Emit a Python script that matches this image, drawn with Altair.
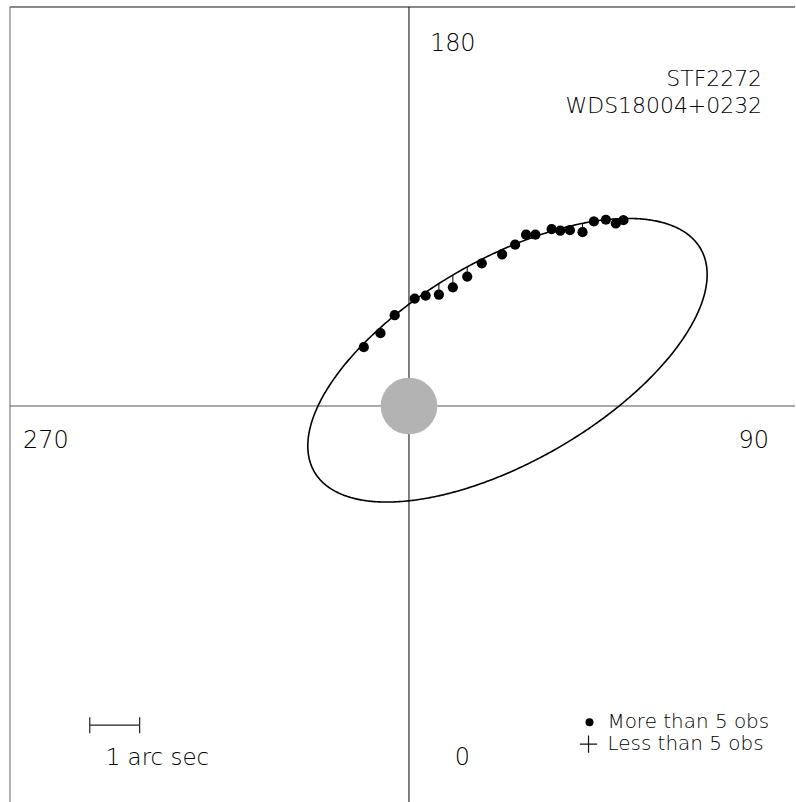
import altair as alt
import numpy as np
import pandas as pd

# Observed relative positions of the companion (arcsec).
# x runs toward position angle 90, y toward position angle 180.
obs_x = [-0.906, -0.572, -0.286, 0.114, 0.334, 0.600, 0.880, 1.168, 1.460, 1.868,
         2.128, 2.348, 2.534, 2.860, 3.034, 3.228, 3.480, 3.708, 3.948, 4.148, 4.300]
obs_y = [1.180, 1.460, 1.820, 2.154, 2.214, 2.234, 2.380, 2.594, 2.860, 3.040,
         3.234, 3.434, 3.434, 3.546, 3.514, 3.526, 3.486, 3.700, 3.734, 3.660, 3.726]

# Apparent orbit: centre (arcsec), semi-axes (arcsec), tilt of major axis (deg)
orbit_center = [1.975, 0.917]
orbit_axes = [4.472, 2.028]
orbit_tilt = 30.0

# Position-angle labels around the frame
pa_labels = ["180", "270", "90", "0"]
pa_x = [0.42, -7.74, 7.22, 0.92]
pa_y = [7.26, -0.70, -0.70, -7.06]
pa_align = ["left", "left", "right", "left"]

star_names = ["STF2272", "WDS18004+0232"]
legend_labels = ["More than 5 obs", "Less than 5 obs"]

FONT = "DejaVu Sans"
X_DOM = [-8.0, 7.74]
Y_DOM = [-7.94, 8.0]
W, H = 787, 797

xs = alt.Scale(domain=X_DOM, nice=False, zero=False)
ys = alt.Scale(domain=Y_DOM, nice=False, zero=False)


def X(field="x"):
    return alt.X(f"{field}:Q", scale=xs, axis=None)


def Y(field="y"):
    return alt.Y(f"{field}:Q", scale=ys, axis=None)


def label_text(df, size, align):
    return alt.Chart(df).mark_text(
        font=FONT, fontSize=size, fontWeight=200, align=align,
        baseline="middle", color="#000000"
    ).encode(x=X(), y=Y(), text="t:N")


# Orbit ellipse traced from its geometric parameters
cx, cy = orbit_center
a, b = orbit_axes
th = np.radians(orbit_tilt)
c, s = np.cos(th), np.sin(th)
t = np.linspace(0, 2 * np.pi, 721)
ell = pd.DataFrame({
    "x": cx + a * np.cos(t) * c - b * np.sin(t) * s,
    "y": cy + a * np.cos(t) * s + b * np.sin(t) * c,
    "i": np.arange(len(t)),
})

# O-C segments: from each observation to the orbit directly above it
ox = np.array(obs_x)
oy = np.array(obs_y)
dx = ox - cx
qa = s * s / a**2 + c * c / b**2
qb = 2 * dx * (c * s / a**2 - s * c / b**2)
qc = dx * dx * (c * c / a**2 + s * s / b**2) - 1
disc = np.clip(qb * qb - 4 * qa * qc, 0, None)
pred_y = cy + (-qb + np.sqrt(disc)) / (2 * qa)
obs = pd.DataFrame({"x": ox, "y": oy, "y2": pred_y})

# Frame edges and cross-hair axes
frame = pd.DataFrame({
    "x": [X_DOM[0], X_DOM[0], X_DOM[0], 0.0],
    "x2": [X_DOM[1], X_DOM[0], X_DOM[1], 0.0],
    "y": [Y_DOM[1], Y_DOM[0], 0.0, Y_DOM[0]],
    "y2": [Y_DOM[1], Y_DOM[1], 0.0, Y_DOM[1]],
    "col": ["#111111", "#666666", "#555555", "#000000"],
})
frame_layer = alt.Chart(frame).mark_rule(strokeWidth=1).encode(
    x=X(), x2="x2:Q", y=Y(), y2="y2:Q", color=alt.Color("col:N", scale=None)
)

primary = alt.Chart(pd.DataFrame({"x": [0.0], "y": [0.0]})).mark_circle(
    size=3230, color="#b3b3b3", opacity=1
).encode(x=X(), y=Y())

orbit = alt.Chart(ell).mark_line(color="black", strokeWidth=1.6).encode(
    x=X(), y=Y(), order="i:Q"
)

oc = alt.Chart(obs).mark_rule(color="black", strokeWidth=1).encode(
    x=X(), y=Y(), y2="y2:Q"
)

dots = alt.Chart(obs).mark_circle(size=105, color="black", opacity=1).encode(
    x=X(), y=Y()
)

# Text labels
pa_df = pd.DataFrame({"x": pa_x, "y": pa_y, "t": pa_labels, "al": pa_align})
text_layers = [
    label_text(pa_df[pa_df["al"] == al], 24, al) for al in ["left", "right"]
]

names = label_text(
    pd.DataFrame({"x": [7.08, 7.08], "y": [6.55, 6.02], "t": star_names}), 22, "right"
)

# 1 arcsec scale bar
bar = pd.DataFrame({
    "x": [-6.4, -6.4, -5.4],
    "x2": [-5.4, -6.4, -5.4],
    "y": [-6.4, -6.56, -6.56],
    "y2": [-6.4, -6.24, -6.24],
})
bar_layer = alt.Chart(bar).mark_rule(color="#222222", strokeWidth=1.2).encode(
    x=X(), x2="x2:Q", y=Y(), y2="y2:Q"
)
bar_text = label_text(
    pd.DataFrame({"x": [-6.08], "y": [-7.06], "t": ["1 arc sec"]}), 23, "left"
)

# Legend
leg_dot = alt.Chart(pd.DataFrame({"x": [3.62], "y": [-6.34]})).mark_circle(
    size=64, color="black", opacity=1
).encode(x=X(), y=Y())
leg_plus = alt.Chart(pd.DataFrame({"x": [3.60], "y": [-6.78]})).mark_point(
    shape="M-1,0L1,0M0,-1L0,1", size=300, filled=False, color="#111111",
    strokeWidth=1.2, opacity=1
).encode(x=X(), y=Y())
leg_text = label_text(
    pd.DataFrame({"x": [3.98, 3.98], "y": [-6.34, -6.78], "t": legend_labels}), 20, "left"
)

chart = alt.layer(
    frame_layer, primary, orbit, oc, dots, *text_layers, names,
    bar_layer, bar_text, leg_dot, leg_plus, leg_text
).properties(
    width=W, height=H,
    padding={"left": 9, "top": 5, "right": 0, "bottom": 0},
    background="white",
).configure_view(stroke=None)

chart.save("out.html", embed_options={"renderer": "svg", "actions": False})
